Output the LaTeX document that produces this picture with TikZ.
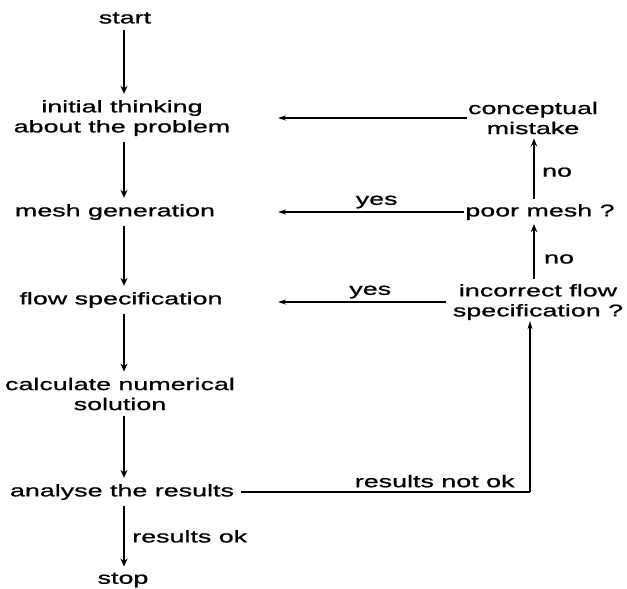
\documentclass[tikz,border=0pt]{standalone}
\usepackage{fontspec}
\newfontfamily\chartfont[FakeStretch=1.58,FakeBold=0.9]{Liberation Sans}
\usetikzlibrary{arrows.meta}
\begin{document}
\begin{tikzpicture}[x=1pt,y=-1pt,
  lbl/.style={font=\chartfont\fontsize{17}{20}\selectfont, align=center, inner sep=1pt},
  tag/.style={font=\chartfont\fontsize{17}{20}\selectfont, inner sep=1pt},
  flow/.style={line width=2.5pt, -{Stealth[length=8pt,width=7pt]}, shorten <=5pt, shorten >=5pt},
  back/.style={line width=1.3pt, -{Stealth[length=8pt,width=5pt]}},
  up/.style={line width=2.2pt, -{Stealth[length=8pt,width=6.5pt]}, shorten <=4pt, shorten >=3pt},
]
\useasboundingbox[fill=white] (0,0) rectangle (627,589);

% main column
\node[lbl] (start) at (125,18) {start};
\node[lbl] (think) at (122,118) {initial thinking\\about the problem};
\node[lbl] (mesh) at (115,212) {mesh generation};
\node[lbl] (flowspec) at (121,300) {flow specification};
\node[lbl] (calc) at (120,394) {calculate numerical\\solution};
\node[lbl] (analyse) at (122,492) {analyse the results};
\node[lbl] (stop) at (123,580) {stop};

% checks on the right
\node[lbl] (concept) at (533,118) {conceptual\\mistake};
\node[lbl] (poor) at (540,212) {poor mesh ?};
\node[lbl] (incorrect) at (538,302) {incorrect flow\\specification ?};

% columns for the vertical arrows, where the feedback arrows end, and the return corner
\coordinate (colmain) at (124,0);
\coordinate (colcheck) at (534,0);
\coordinate (tipcol) at (278,0);
\coordinate (corner) at (530,492);

% downward flow
\draw[flow] (start.south -| colmain) -- (think.north -| colmain);
\draw[flow] (think.south -| colmain) -- (mesh.north -| colmain);
\draw[flow] (mesh.south -| colmain) -- (flowspec.north -| colmain);
\draw[flow] (flowspec.south -| colmain) -- (calc.north -| colmain);
\draw[flow] (calc.south -| colmain) -- (analyse.north -| colmain);
\draw[flow] (analyse.south -| colmain) -- (stop.north -| colmain)
  node[tag, midway, right=6pt] (ok) {results ok};

% upward checks
\draw[up] (poor.north -| colcheck) -- (concept.south -| colcheck)
  node[tag, midway, right=6pt, yshift=-3pt] (no1) {no};
\draw[up] (incorrect.north -| colcheck) -- (poor.south -| colcheck)
  node[tag, midway, right=8pt, yshift=-7pt] (no2) {no};

% feedback to the left
\draw[back] (concept.west) -- (concept.west -| tipcol);
\draw[back] (poor.west) -- (poor.west -| tipcol)
  node[tag, pos=0.47, above=2pt] (yes1) {yes};
\draw[back] (incorrect.west) ++(-6,0) -- (incorrect.west -| tipcol)
  node[tag, pos=0.45, above=2pt] (yes2) {yes};

% results not ok
\draw[line width=1.3pt] (analyse.east) ++(6,0) -- (corner)
  node[tag, pos=0.67, above=3pt] (notok) {results not ok};
\draw[back] (corner) -- (corner |- incorrect.south);
\end{tikzpicture}
\end{document}
